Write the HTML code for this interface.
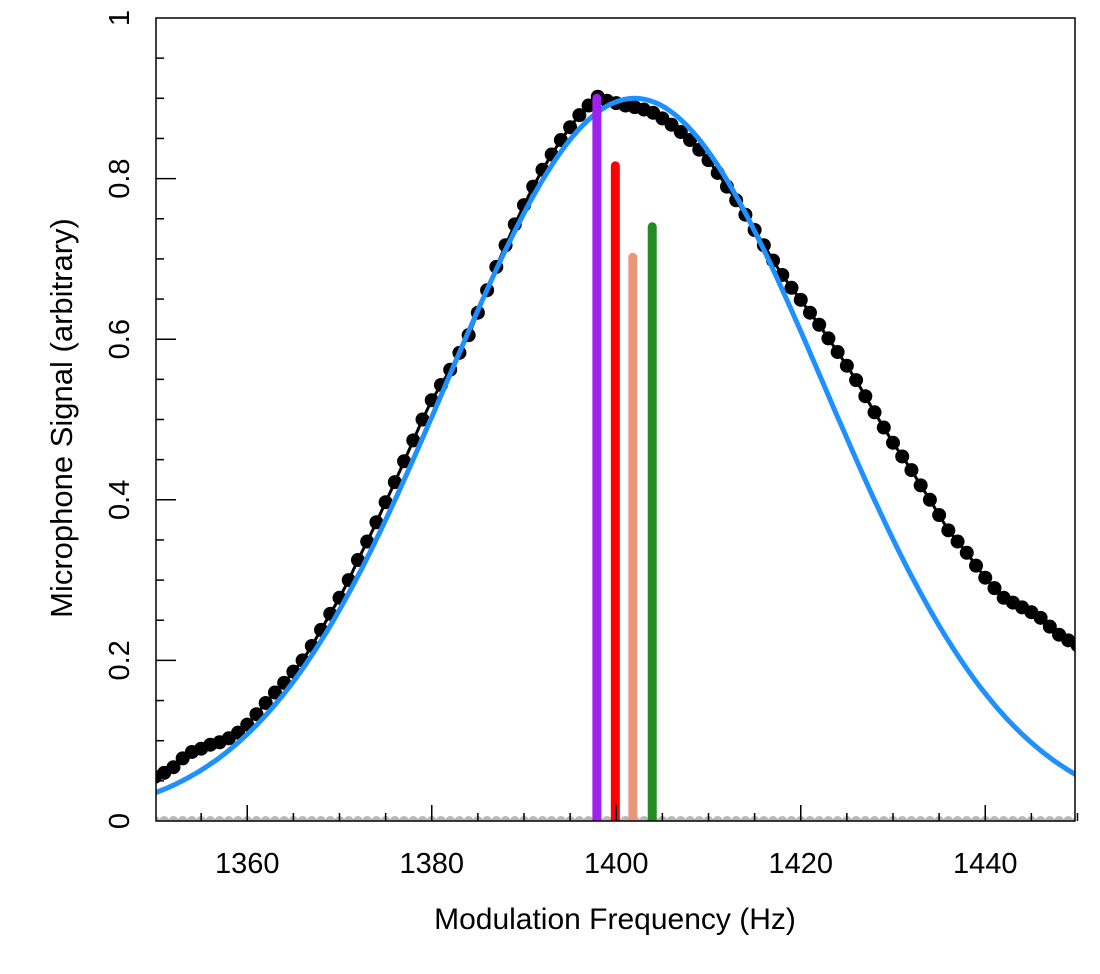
<!DOCTYPE html>
<html><head><meta charset="utf-8"><style>
body{margin:0;background:#fff;}
svg text{font-family:"Liberation Sans",Arial,sans-serif;fill:#000;}
</style></head><body>
<svg id="chart" width="1100" height="969" viewBox="0 0 1100 969" xmlns="http://www.w3.org/2000/svg">
<defs><clipPath id="clip"><rect x="156" y="18" width="919" height="803"/></clipPath></defs>
<g id="plot" clip-path="url(#clip)"></g>
<rect x="156" y="18" width="919" height="803" fill="none" stroke="#000" stroke-width="1.5"/>
<g id="axes"></g>
<text x="615" y="929" font-size="30" text-anchor="middle">Modulation Frequency (Hz)</text>
<text transform="translate(72,418) rotate(-90)" font-size="31" text-anchor="middle">Microphone Signal (arbitrary)</text>
</svg>
<script>
const freqStart = 1350;
const signalValues = [.055,.06,.067,.078,.086,.09,.095,.098,.103,.11,.12,.133,.147,.16,.172,.186,.2,.218,.238,.258,.278,.3,.325,.348,.372,.397,.422,.448,.474,.5,.524,.543,.562,.583,.605,.633,.661,.69,.717,.743,.767,.79,.811,.83,.848,.864,.879,.891,.902,.897,.894,.891,.889,.886,.882,.875,.867,.858,.848,.836,.823,.807,.79,.773,.755,.736,.717,.698,.68,.664,.649,.633,.618,.601,.584,.567,.549,.529,.509,.49,.471,.454,.437,.418,.4,.381,.362,.348,.334,.318,.303,.29,.278,.272,.266,.26,.253,.242,.232,.225,.219];
const fitCenter = 1402, fitSigma = 20.4, fitAmp = 0.9;
const barFreqs = [1397.9, 1399.9, 1401.8, 1403.9];
const barHeights = [0.90, 0.816, 0.702, 0.74];
const barColors = ['#A020F0', '#FF0000', '#E9967A', '#228B22'];
const barNames = ['bar-purple', 'bar-red', 'bar-salmon', 'bar-green'];
const xTicks = [1360, 1380, 1400, 1420, 1440];
const yTicks = [0, 0.2, 0.4, 0.6, 0.8, 1];

const NS = 'http://www.w3.org/2000/svg';
const X = f => 155 + (f - 1350) * 9.225;
const Y = v => 821 - v * 803;
const plot = document.getElementById('plot');
const axes = document.getElementById('axes');
function mk(tag, attrs, parent) {
  const e = document.createElementNS(NS, tag);
  for (const k in attrs) e.setAttribute(k, attrs[k]);
  parent.appendChild(e);
  return e;
}
for (let i = 0; i < signalValues.length; i++) {
  const c = mk('circle', {cx: X(freqStart + i), cy: Y(0), r: 5, fill: '#b8b8b8'}, plot);
  
  
}
let d = '';
signalValues.forEach((v, i) => { d += (i ? 'L' : 'M') + X(freqStart + i).toFixed(1) + ' ' + Y(v).toFixed(1); });
const line = mk('path', {d: d, fill: 'none', stroke: '#000', 'stroke-width': 3}, plot);


signalValues.forEach((v, i) => {
  const c = mk('circle', {cx: X(freqStart + i), cy: Y(v), r: 7, fill: '#000'}, plot);
  
  
});
let fd = '';
for (let f = 1349; f <= 1451; f += 0.25) {
  const v = fitAmp * Math.exp(-Math.pow(f - fitCenter, 2) / (2 * fitSigma * fitSigma));
  fd += (f === 1349 ? 'M' : 'L') + X(f).toFixed(1) + ' ' + Y(v).toFixed(1);
}
const fit = mk('path', {d: fd, fill: 'none', stroke: '#1E90FF', 'stroke-width': 5}, plot);


barFreqs.forEach((f, i) => {
  const b = mk('line', {x1: X(f), x2: X(f), y1: Y(0) + 10, y2: Y(barHeights[i]), stroke: barColors[i], 'stroke-width': 9, 'stroke-linecap': 'round'}, plot);
  
  
});
for (let f = 1355; f <= 1450; f += 5) {
  const major = xTicks.includes(f);
  const t = mk('line', {x1: X(f), x2: X(f), y1: 821, y2: major ? 805 : 813, stroke: '#000', 'stroke-width': 1.5}, axes);
  
  
}
xTicks.forEach(f => {
  const t = mk('text', {x: X(f), y: 873, 'font-size': 29, 'text-anchor': 'middle'}, axes);
  t.textContent = f;
  
  
});
for (let k = 1; k < 20; k++) {
  const v = k * 0.05;
  const major = k % 4 === 0;
  const t = mk('line', {x1: 156, x2: major ? 176 : 164, y1: Y(v), y2: Y(v), stroke: '#000', 'stroke-width': 1.5}, axes);
  
  
}
yTicks.forEach(v => {
  const t = mk('text', {transform: 'translate(129,' + Y(v) + ') rotate(-90)', 'font-size': 29, 'text-anchor': 'middle'}, axes);
  t.textContent = v === 0 ? '0' : (v === 1 ? '1' : v.toFixed(1));
  
  
});
</script>
</body></html>
